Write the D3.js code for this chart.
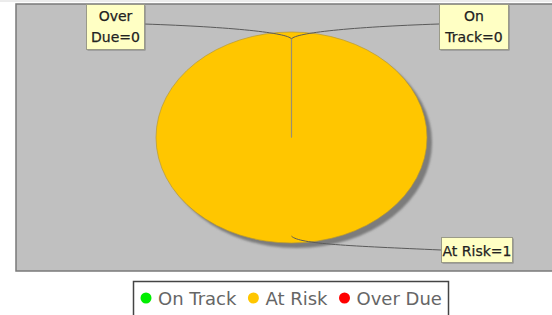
<!DOCTYPE html>
<html><head><meta charset="utf-8">
<script src="https://cdn.jsdelivr.net/npm/d3@7"></script>
<style>body{margin:0;background:#fff;overflow:hidden}svg{display:block}</style>
</head><body>
<script>
const categories = ["On Track", "At Risk", "Over Due"];
const values = [0, 1, 0];
const colors = ["#00ee00", "#ffc600", "#ff0000"];

const W = 552, H = 315;
const svg = d3.select("body").append("svg").attr("width", W).attr("height", H)
  .style("font-family", "'DejaVu Sans', Verdana, sans-serif");

const defs = svg.append("defs");
defs.append("filter").attr("id", "blur").append("feGaussianBlur").attr("stdDeviation", 1.2);

// plot frame
const plot = {x: 16, y: 4, w: 560, h: 267};
svg.append("line").attr("x1", 0).attr("x2", W).attr("y1", 1).attr("y2", 1).attr("stroke", "#d8d8d8");
svg.append("rect").attr("x", plot.x).attr("y", plot.y).attr("width", plot.w).attr("height", plot.h)
  .attr("fill", "#c0c0c0").attr("stroke", "#7a7a7a").attr("stroke-width", 1.5);

// pie geometry
const cx = 291.5, cy = 137.5, rx = 135.5, ry = 105.5;
const pie = d3.pie().sort(null).value(d => d.v);
const data = categories.map((c, i) => ({c, v: values[i], col: colors[i]}));
const arcs = pie(data);
const arc = d3.arc().innerRadius(0).outerRadius(ry);
const sx = rx / ry;

// shadow
svg.append("ellipse").attr("cx", cx + 5).attr("cy", cy + 5).attr("rx", rx).attr("ry", ry)
  .attr("fill", "#7c7c7c").attr("filter", "url(#blur)");

const g = svg.append("g").attr("transform", `translate(${cx},${cy}) scale(${sx},1)`);
g.selectAll("path.slice").data(arcs.filter(a => a.data.v > 0)).join("path")
  .attr("class", "slice").attr("d", arc).attr("fill", d => d.data.col)
  .attr("stroke", "#b89a30").attr("stroke-width", 0.7).attr("vector-effect", "non-scaling-stroke");

function anchor(a, k) {
  const ang = (a.startAngle + a.endAngle) / 2;
  return [cx + Math.sin(ang) * rx * k, cy - Math.cos(ang) * ry * k];
}

// radial edge lines for zero slices
arcs.filter(a => a.data.v === 0).forEach(a => {
  const p = anchor(a, 0.935);
  svg.append("line").attr("x1", cx).attr("y1", cy).attr("x2", p[0]).attr("y2", p[1])
    .attr("stroke", "#9a9070").attr("stroke-width", 1.1);
});

// label layout
const labelBoxes = {
  "Over Due": {x: 86, y: 4, w: 58, h: 45, side: "right", ly: 24},
  "On Track": {x: 439, y: 4, w: 69, h: 45, side: "left", ly: 24},
  "At Risk":  {x: 441, y: 237, w: 71, h: 25, side: "left", ly: 250}
};

arcs.forEach(a => {
  const b = labelBoxes[a.data.c];
  const parts = a.data.c.split(" ");
  b.lines = a.data.v === 0 ? [parts[0], parts[1] + "=" + a.data.v] : [a.data.c + "=" + a.data.v];
  const p = anchor(a, 0.935);
  const ex = b.side === "right" ? b.x + b.w : b.x;
  const ey = b.ly;
  let d;
  if (p[1] < cy) {
    d = `M${p[0]},${p[1]} C${p[0] + (ex - p[0]) * 0.03},${p[1] - 6} ${p[0] + (ex - p[0]) * 0.4},${ey + 3} ${ex},${ey}`;
  } else {
    d = `M${p[0]},${p[1]} C${p[0] + 8},${p[1] + 8} ${p[0] + 60},${ey - 4} ${ex},${ey}`;
  }
  svg.append("path").attr("d", d).attr("fill", "none").attr("stroke", "#5a5a5a").attr("stroke-width", 1);
});

arcs.forEach(a => {
  const b = labelBoxes[a.data.c];
  svg.append("rect").attr("x", b.x + 1.5).attr("y", b.y + 1.5).attr("width", b.w).attr("height", b.h).attr("fill", "#808080");
  svg.append("rect").attr("x", b.x + 0.5).attr("y", b.y + 0.5).attr("width", b.w).attr("height", b.h)
    .attr("fill", "#ffffc4").attr("stroke", "#9a9a88").attr("stroke-width", 1);
  const n = b.lines.length;
  b.lines.forEach((t, i) => {
    svg.append("text").attr("x", b.x + b.w / 2 + 0.5)
      .attr("y", n === 1 ? b.y + 19 : b.y + 17 + i * 21)
      .attr("text-anchor", "middle").attr("font-size", 14).attr("fill", "#222")
      .attr("stroke", "#222").attr("stroke-width", 0.25).text(t);
  });
});

// legend
const lg = svg.append("g");
lg.append("rect").attr("x", 133.5).attr("y", 281.5).attr("width", 315).attr("height", 40)
  .attr("fill", "#fff").attr("stroke", "#444").attr("stroke-width", 1.5);
let lx = 146;
data.forEach(d => {
  lg.append("circle").attr("cx", lx).attr("cy", 298).attr("r", 5.5).attr("fill", d.col);
  const t = lg.append("text").attr("x", lx + 12).attr("y", 305).attr("font-size", 18).attr("fill", "#666").text(d.c);
  const w = t.node().getComputedTextLength();
  lx = lx + 12 + w + 17;
});
</script>
</body></html>
